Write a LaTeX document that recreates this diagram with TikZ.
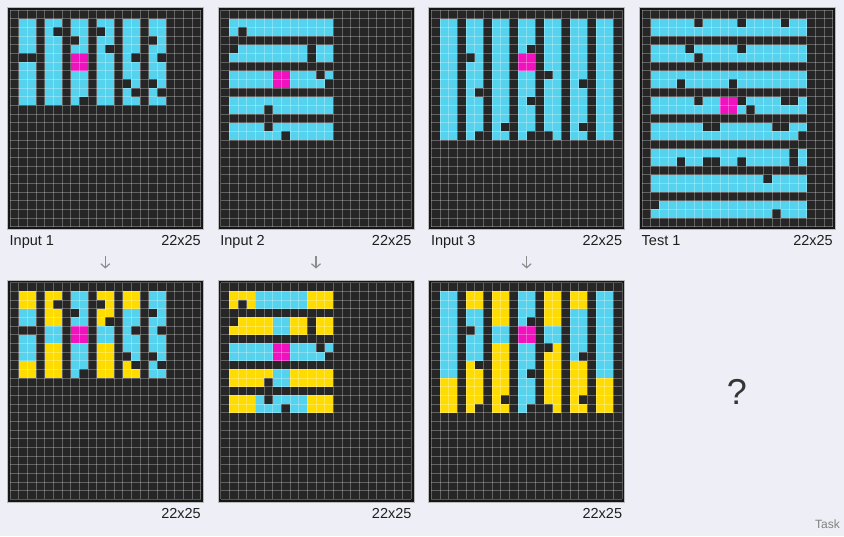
\documentclass[tikz,border=0pt]{standalone}
\usepackage{fontspec}
\setmainfont{Liberation Sans}
\usetikzlibrary{arrows.meta}
\definecolor{bg}{HTML}{EEEFF6}
\definecolor{cellbk}{HTML}{262626}
\definecolor{framec}{HTML}{161616}
\definecolor{cy}{HTML}{55D3EE}
\definecolor{ye}{HTML}{FFDC00}
\definecolor{mg}{HTML}{F012BE}
\definecolor{arrc}{HTML}{8C8C8C}
\definecolor{txt}{HTML}{1E1E1E}
\newcommand{\fillc}[5]{\fill[#1] (#2,#3) rectangle ({#4+1},{#5+1});}
\newcommand{\hole}[2]{\fill[cellbk] (#1,#2) rectangle ({#1+1},{#2+1});}
\newcommand{\arcgrid}[3]{%
  \begin{scope}[shift={(#1,#2)},x=8.6667pt,y=-8.6667pt]
    \fill[framec,draw=gray!55,line width=0.5pt] (-0.3,-0.3) rectangle (22.3,25.3);
    \fill[cellbk] (0,0) rectangle (22,25);
    #3
    \foreach \i in {0,...,22} \draw[gridline] (\i,0) -- (\i,25);
    \foreach \j in {0,...,25} \draw[gridline] (0,\j) -- (22,\j);
  \end{scope}}
\newcommand{\holesone}{%
  \fillc{mg}{7}{5}{8}{6}
  \fillc{cellbk}{1}{5}{2}{5}
  \hole{5}{2} \hole{7}{3} \hole{8}{10} \hole{10}{2} \hole{11}{4}
  \hole{14}{5} \hole{13}{8} \hole{14}{9} \hole{16}{3} \hole{17}{5}
  \hole{16}{8} \hole{17}{9}}
\newcommand{\holestwo}{%
  \fillc{mg}{6}{7}{7}{8}
  \hole{2}{2} \hole{1}{4} \hole{10}{4} \hole{10}{5} \hole{11}{7}
  \hole{12}{8} \hole{5}{11} \hole{5}{13} \hole{7}{14}}
\newcommand{\holesthree}{%
  \fillc{mg}{10}{5}{11}{6}
  \hole{4}{5} \hole{5}{9} \hole{5}{14} \hole{8}{13} \hole{11}{4}
  \hole{11}{10} \hole{11}{14} \hole{13}{7} \hole{13}{14} \hole{17}{8}
  \hole{17}{13}}
\begin{document}
\begin{tikzpicture}[x=1pt,y=-1pt,
  gridline/.style={white,opacity=0.28,line width=0.8pt},
  lbl/.style={inner sep=0pt,font=\fontsize{14.5}{16}\selectfont,text=txt},
  arr/.style={draw=arrc,line width=1.2pt,-{Straight Barb[length=4pt,width=9pt]}}]
\fill[bg] (0,0) rectangle (844,536);
\useasboundingbox (0,0) rectangle (844,536);

% ---------- Input 1 ----------
\arcgrid{10}{10}{%
  \fillc{cy}{1}{1}{2}{10} \fillc{cy}{4}{1}{5}{10} \fillc{cy}{7}{1}{8}{10}
  \fillc{cy}{10}{1}{11}{10} \fillc{cy}{13}{1}{14}{10} \fillc{cy}{16}{1}{17}{10}
  \holesone}
% ---------- Output 1 ----------
\arcgrid{10}{282.67}{%
  \fillc{ye}{1}{1}{2}{2} \fillc{cy}{1}{3}{2}{8} \fillc{ye}{1}{9}{2}{10}
  \fillc{ye}{4}{1}{5}{4} \fillc{cy}{4}{5}{5}{6} \fillc{ye}{4}{7}{5}{10}
  \fillc{cy}{7}{1}{8}{10}
  \fillc{ye}{10}{1}{11}{4} \fillc{cy}{10}{5}{11}{6} \fillc{ye}{10}{7}{11}{10}
  \fillc{ye}{13}{1}{14}{2} \fillc{cy}{13}{3}{14}{8} \fillc{ye}{13}{9}{14}{10}
  \fillc{cy}{16}{1}{17}{10}
  \holesone}

% ---------- Input 2 ----------
\arcgrid{220.67}{10}{%
  \fillc{cy}{1}{1}{12}{2} \fillc{cy}{1}{4}{12}{5} \fillc{cy}{1}{7}{12}{8}
  \fillc{cy}{1}{10}{12}{11} \fillc{cy}{1}{13}{12}{14}
  \holestwo}
% ---------- Output 2 ----------
\arcgrid{220.67}{282.67}{%
  \fillc{ye}{1}{1}{3}{2} \fillc{cy}{4}{1}{9}{2} \fillc{ye}{10}{1}{12}{2}
  \fillc{ye}{1}{4}{5}{5} \fillc{cy}{6}{4}{7}{5} \fillc{ye}{8}{4}{12}{5}
  \fillc{cy}{1}{7}{12}{8}
  \fillc{ye}{1}{10}{5}{11} \fillc{cy}{6}{10}{7}{11} \fillc{ye}{8}{10}{12}{11}
  \fillc{ye}{1}{13}{3}{14} \fillc{cy}{4}{13}{9}{14} \fillc{ye}{10}{13}{12}{14}
  \holestwo}

% ---------- Input 3 ----------
\arcgrid{431.33}{10}{%
  \foreach \c in {1,4,...,19} {\fillc{cy}{\c}{1}{\c+1}{14}}
  \holesthree}
% ---------- Output 3 ----------
\arcgrid{431.33}{282.67}{%
  \fillc{cy}{1}{1}{2}{10} \fillc{ye}{1}{11}{2}{14}
  \fillc{ye}{4}{1}{5}{2} \fillc{cy}{4}{3}{5}{8} \fillc{ye}{4}{9}{5}{14}
  \fillc{ye}{7}{1}{8}{4} \fillc{cy}{7}{5}{8}{6} \fillc{ye}{7}{7}{8}{14}
  \fillc{cy}{10}{1}{11}{14}
  \fillc{ye}{13}{1}{14}{4} \fillc{cy}{13}{5}{14}{6} \fillc{ye}{13}{7}{14}{14}
  \fillc{ye}{16}{1}{17}{2} \fillc{cy}{16}{3}{17}{8} \fillc{ye}{16}{9}{17}{14}
  \fillc{cy}{19}{1}{20}{10} \fillc{ye}{19}{11}{20}{14}
  \holesthree}

% ---------- Test 1 ----------
\arcgrid{642}{10}{%
  \foreach \r in {1,4,...,22} {\fillc{cy}{1}{\r}{18}{\r+1}}
  \fillc{mg}{9}{10}{10}{11}
  \hole{6}{1} \hole{11}{1} \hole{16}{1}
  \hole{5}{4} \hole{11}{4} \hole{6}{5}
  \hole{4}{8} \hole{10}{8}
  \hole{6}{10} \hole{11}{10} \hole{16}{10} \hole{17}{10} \hole{12}{11}
  \fillc{cellbk}{7}{13}{8}{13} \fillc{cellbk}{15}{13}{16}{13} \hole{18}{14}
  \hole{17}{16}
  \hole{4}{17} \fillc{cellbk}{7}{17}{8}{17} \hole{11}{17} \hole{17}{17}
  \hole{14}{19}
  \hole{1}{22} \hole{15}{23}}

% ---------- labels ----------
\node[lbl,anchor=base west] (in1) at (9.5,245.5) {Input 1};
\node[lbl,anchor=base east] (in1s) at (201,245.5) {22x25};
\node[lbl,anchor=base west] (in2) at (220.2,245.5) {Input 2};
\node[lbl,anchor=base east] (in2s) at (411.7,245.5) {22x25};
\node[lbl,anchor=base west] (in3) at (430.8,245.5) {Input 3};
\node[lbl,anchor=base east] (in3s) at (622.3,245.5) {22x25};
\node[lbl,anchor=base west] (te1) at (641.5,245.5) {Test 1};
\node[lbl,anchor=base east] (te1s) at (833,245.5) {22x25};
\node[lbl,anchor=base east] (out1s) at (201,518.5) {22x25};
\node[lbl,anchor=base east] (out2s) at (411.7,518.5) {22x25};
\node[lbl,anchor=base east] (out3s) at (622.3,518.5) {22x25};

% ---------- arrows ----------
\coordinate (a1s) at (105.3,255.5); \coordinate (a1e) at (105.3,268.5);
\coordinate (a2s) at (316,255.5);   \coordinate (a2e) at (316,268.5);
\coordinate (a3s) at (526.7,255.5); \coordinate (a3e) at (526.7,268.5);
\draw[arr] (a1s) -- (a1e);
\draw[arr] (a2s) -- (a2e);
\draw[arr] (a3s) -- (a3e);

% ---------- unknown output & footer ----------
\node[inner sep=0pt,font=\fontsize{36}{40}\selectfont,text=txt!90] (q) at (737,392) {?};
\node[inner sep=0pt,anchor=base east,font=\fontsize{12}{14}\selectfont,text=gray] (task) at (840,528) {Task};
\end{tikzpicture}
\end{document}
